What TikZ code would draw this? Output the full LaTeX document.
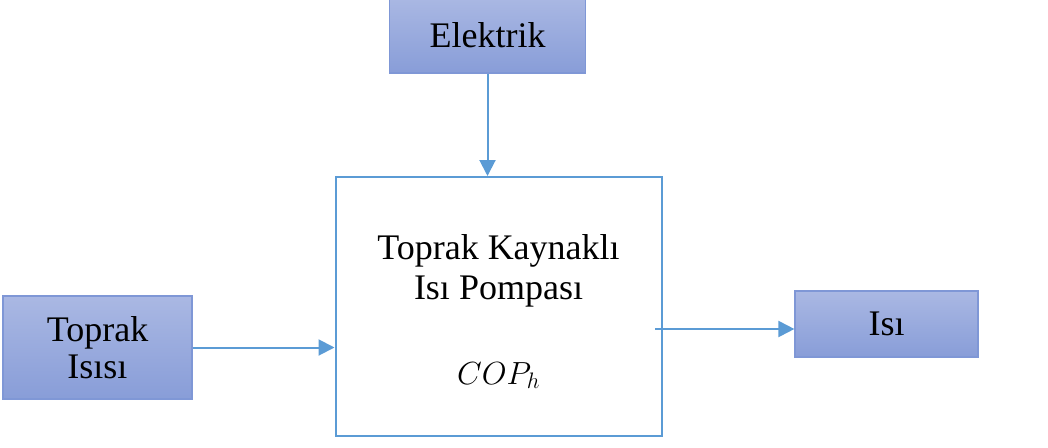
\RequirePackage{fix-cm}
\documentclass[tikz,border=0pt]{standalone}
\usepackage{fontspec}
\setmainfont{Liberation Serif}
\usetikzlibrary{arrows.meta}
\definecolor{edgeblue}{HTML}{5B9BD5}
\definecolor{boxtop}{HTML}{AAB8E3}
\definecolor{boxbot}{HTML}{889DD8}
\definecolor{boxline}{HTML}{7F97D6}
\tikzset{
  bluebox/.style={draw=boxline, line width=1.2pt, top color=boxtop, bottom color=boxbot,
    inner sep=0pt, align=center, text=black},
  flow/.style={draw=edgeblue, line width=2pt, -{Triangle[length=16pt,width=16pt]}}
}
\begin{document}
\begin{tikzpicture}[x=1pt,y=-1pt]
\useasboundingbox (0,0) rectangle (1048,447);
\node[bluebox, minimum width=196pt, minimum height=76pt, font={\fontsize{36}{40}\selectfont}] (elektrik) at (487.5,35) {Elektrik};
\node[draw=edgeblue, line width=2pt, minimum width=326pt, minimum height=259pt, inner sep=0pt] (pompa) at (498.5,306.5) {};
\node[anchor=base, font={\fontsize{36}{40}\selectfont}] (pompaA) at (498.5,259) {Toprak Kaynaklı};
\node[anchor=base, font={\fontsize{36}{40}\selectfont}] (pompaB) at (498.5,299) {Isı Pompası};
\node[anchor=base, font={\fontsize{32}{34}\selectfont}] (cop) at (498.5,384) {$COP_h$};
\node[bluebox, minimum width=189pt, minimum height=103pt, font={\fontsize{36}{37}\selectfont}] (toprak) at (97.5,347.5) {Toprak\\Isısı};
\node[bluebox, minimum width=183pt, minimum height=66pt, font={\fontsize{36}{40}\selectfont}] (isi) at (886.5,324) {Isı};
\coordinate (cikis) at (655,329);
\draw[flow] (elektrik.south) -- (elektrik.south |- pompa.north);
\draw[flow] (toprak.east) -- (pompa.west |- toprak.east);
\draw[flow] (cikis) -- (cikis -| isi.west);
\end{tikzpicture}
\end{document}
